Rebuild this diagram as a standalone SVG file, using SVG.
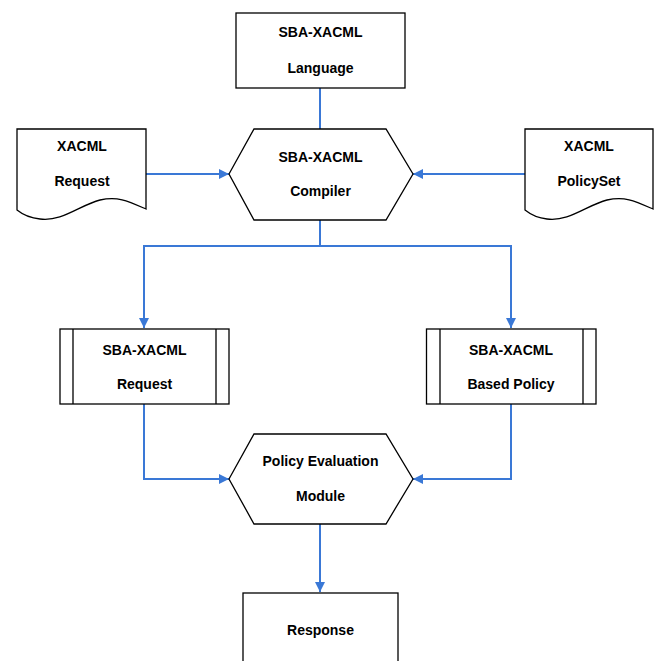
<svg xmlns="http://www.w3.org/2000/svg" width="655" height="661" viewBox="0 0 655 661">
<defs>
<style>
.shape{fill:#fff;stroke:#000;stroke-width:1.3}
.conn{fill:none;stroke:#3a78d6;stroke-width:2}
text{font-family:"Liberation Sans",Arial,sans-serif;font-weight:bold;font-size:14px;fill:#000;text-anchor:middle}
</style>
<marker id="arr" viewBox="0 0 10 10" refX="10" refY="5" markerWidth="10" markerHeight="10" markerUnits="userSpaceOnUse" orient="auto">
<path d="M0,0 L10,5 L0,10 z" fill="#3a78d6"/>
</marker>
</defs>
<rect width="655" height="661" fill="#fff"/>
<g id="connectors">
<path class="conn" d="M320,88 V129"/>
<path class="conn" d="M146,174 H229" marker-end="url(#arr)"/>
<path class="conn" d="M525,174 H413" marker-end="url(#arr)"/>
<path class="conn" d="M320,220 V246 H144 V328" marker-end="url(#arr)"/>
<path class="conn" d="M320,246 H511 V328" marker-end="url(#arr)"/>
<path class="conn" d="M144,404 V479 H229" marker-end="url(#arr)"/>
<path class="conn" d="M511,404 V479 H413" marker-end="url(#arr)"/>
<path class="conn" d="M320,524 V592" marker-end="url(#arr)"/>
</g>
<g id="language">
<rect class="shape" x="236" y="13" width="169" height="75"/>
<text x="320.5" y="37">SBA-XACML</text>
<text x="320.5" y="73">Language</text>
</g>
<g id="xacml-request">
<path class="shape" d="M17,129 H146 V209 C128,201 118,196 100,200 C80,205 62,222 40,219 C30,218 22,214 17,210 Z"/>
<text x="82" y="151">XACML</text>
<text x="82" y="186">Request</text>
</g>
<g id="compiler">
<path class="shape" d="M229,174 L254,129 H386 L413,174 L386,220 H254 Z"/>
<text x="320.5" y="162">SBA-XACML</text>
<text x="320.5" y="196">Compiler</text>
</g>
<g id="xacml-policyset">
<path class="shape" d="M525,129 H653 V209 C635,201 625,196 607,200 C587,205 569,222 547,219 C537,218 530,214 525,210 Z"/>
<text x="589" y="151">XACML</text>
<text x="589" y="186">PolicySet</text>
</g>
<g id="sba-request">
<rect class="shape" x="60" y="329" width="169" height="75"/>
<path class="shape" d="M73,329 V404 M216,329 V404"/>
<text x="144.5" y="355">SBA-XACML</text>
<text x="144.5" y="389">Request</text>
</g>
<g id="based-policy">
<rect class="shape" x="426.5" y="329" width="169.5" height="75"/>
<path class="shape" d="M440,329 V404 M583,329 V404"/>
<text x="511" y="355">SBA-XACML</text>
<text x="511" y="389">Based Policy</text>
</g>
<g id="policy-evaluation">
<path class="shape" d="M229,479 L254,434 H386 L413,479 L386,524 H254 Z"/>
<text x="320.5" y="466">Policy Evaluation</text>
<text x="320.5" y="501">Module</text>
</g>
<g id="response">
<rect class="shape" x="243" y="593" width="155" height="80"/>
<text x="320.5" y="635">Response</text>
</g>
</svg>
